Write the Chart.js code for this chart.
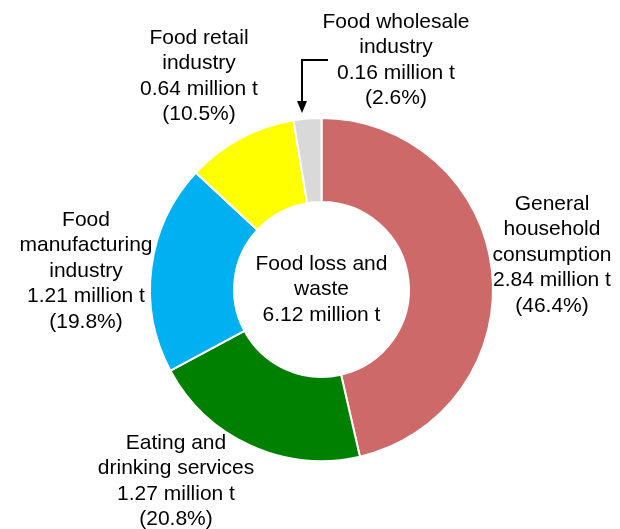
<!DOCTYPE html>
<html>
<head>
<meta charset="utf-8">
<script src="https://cdn.jsdelivr.net/npm/chart.js@4"></script>
<style>
  html, body { margin: 0; padding: 0; background: #fff; }
  #wrap { width: 620px; height: 529px; }
</style>
</head>
<body>
<div id="wrap"><canvas id="pie" width="620" height="529"></canvas></div>
<script>
// data
const categories = [
  "General household consumption",
  "Eating and drinking services",
  "Food manufacturing industry",
  "Food retail industry",
  "Food wholesale industry"
];
const tonnes = [2.84, 1.27, 1.21, 0.64, 0.16]; // million t
const shares = ["46.4%", "20.8%", "19.8%", "10.5%", "2.6%"];
const colors = ["#CD6969", "#008000", "#00B0F0", "#FFFF00", "#D9D9D9"];

// how each label is broken into lines (text only)
const labelLines = [
  ["General", "household", "consumption"],
  ["Eating and", "drinking services"],
  ["Food", "manufacturing", "industry"],
  ["Food retail", "industry"],
  ["Food wholesale", "industry"]
];
const centerLines = ["Food loss and", "waste", "6.12 million t"];

// where the label blocks sit (x center, y of first line)
const labelPos = [
  [552, 204], [176, 443], [86, 220], [199, 38], [396, 22]
];

const FONT = "21px 'Liberation Sans', Arial, sans-serif";
const LH = 25.5;

const labelPlugin = {
  id: "labels",
  afterDraw(chart) {
    const c = chart.ctx;
    c.save();
    c.font = FONT;
    c.fillStyle = "#000";
    c.textAlign = "center";
    c.textBaseline = "middle";
    categories.forEach((cat, i) => {
      const lines = labelLines[i].concat([tonnes[i].toFixed(2) + " million t", "(" + shares[i] + ")"]);
      const [x, y] = labelPos[i];
      lines.forEach((t, k) => c.fillText(t, x, y + k * LH));
    });
    const arc = chart.getDatasetMeta(0).data[0];
    centerLines.forEach((t, k) => c.fillText(t, arc.x, arc.y - LH + k * LH));

    // arrow to the wholesale slice
    c.strokeStyle = "#000";
    c.lineWidth = 2;
    c.beginPath();
    c.moveTo(328, 60);
    c.lineTo(302, 60);
    c.lineTo(302, 104);
    c.stroke();
    c.beginPath();
    c.moveTo(297, 101);
    c.lineTo(307, 101);
    c.lineTo(302, 113);
    c.closePath();
    c.fillStyle = "#000";
    c.fill();
    c.restore();
  }
};

new Chart(document.getElementById("pie").getContext("2d"), {
  type: "doughnut",
  data: {
    labels: categories,
    datasets: [{
      data: tonnes,
      backgroundColor: colors,
      borderColor: "#fff",
      borderWidth: 2
    }]
  },
  options: {
    responsive: false,
    animation: false,
    cutout: "51%",
    layout: { padding: { left: 149, right: 126, top: 116, bottom: 66 } },
    plugins: {
      legend: { display: false },
      tooltip: { enabled: false }
    }
  },
  plugins: [labelPlugin]
});
</script>
</body>
</html>
